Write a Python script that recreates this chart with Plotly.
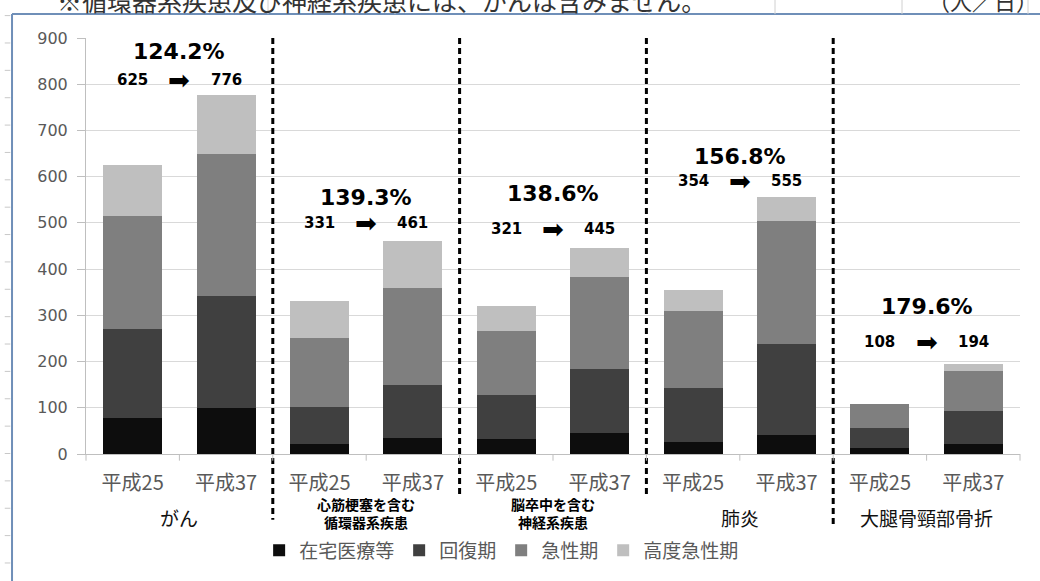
import plotly.graph_objects as go

# 病床機能別の推計（人／日）: 平成25年 → 平成37年
diseases = ["がん", "心筋梗塞を含む<br>循環器系疾患", "脳卒中を含む<br>神経系疾患", "肺炎", "大腿骨頸部骨折"]
years = ["平成25", "平成37"]

series_names = ["在宅医療等", "回復期", "急性期", "高度急性期"]
series_colors = ["#0d0d0d", "#404040", "#7f7f7f", "#bfbfbf"]

# bar order: がん H25, がん H37, 循環器 H25, 循環器 H37, ...
zaitaku = [78, 100, 21, 34, 32, 45, 25, 41, 12, 21]
kaifuku = [193, 242, 80, 115, 95, 138, 117, 198, 44, 72]
kyusei = [244, 306, 151, 211, 140, 200, 168, 265, 52, 86]
kodo = [110, 128, 79, 101, 54, 62, 44, 51, 0, 15]

y_ticks = [0, 100, 200, 300, 400, 500, 600, 700, 800, 900]

values = [zaitaku, kaifuku, kyusei, kodo]
n_bars = len(zaitaku)
xs = list(range(n_bars))
totals = [sum(v[i] for v in values) for i in xs]

fig = go.Figure()
for name, color, vals in zip(series_names, series_colors, values):
    fig.add_trace(go.Bar(
        x=xs, y=vals, name=name, marker=dict(color=color, line=dict(width=0)),
        width=0.63,
    ))

GRAY = "#595959"
CJK = "Noto Sans CJK JP"
LAT = "DejaVu Sans"

annotations = []
shapes = []

# per-group label heights (percent line, totals line) in axis units
label_rows = [(870, 810), (556, 500), (564, 487), (644, 590), (319, 243)]

for g, disease in enumerate(diseases):
    i0, i1 = 2 * g, 2 * g + 1
    t0, t1 = totals[i0], totals[i1]
    pct = t1 / t0 * 100
    y_pct, y_tot = label_rows[g]
    annotations.append(dict(x=(i0 + i1) / 2, y=y_pct, xref="x", yref="y",
                            text=f"<b>{pct:.1f}%</b>", showarrow=False,
                            font=dict(family=LAT, size=22, color="#000")))
    annotations.append(dict(x=i0, y=y_tot, xref="x", yref="y",
                            text=f"<b>{t0}</b>", showarrow=False,
                            font=dict(family=LAT, size=15, color="#000")))
    annotations.append(dict(x=i1, y=y_tot, xref="x", yref="y",
                            text=f"<b>{t1}</b>", showarrow=False,
                            font=dict(family=LAT, size=15, color="#000")))
    annotations.append(dict(x=(i0 + i1) / 2, y=y_tot, xref="x", yref="y",
                            text="➡", showarrow=False,
                            font=dict(family=LAT, size=26, color="#000")))
    # disease name under the year labels
    xc = (2 * g + 1) / 10
    if "<br>" in disease:
        annotations.append(dict(x=xc, y=-0.142, xref="paper", yref="paper",
                                xanchor="center", yanchor="middle",
                                text="<b>" + disease + "</b>", showarrow=False,
                                font=dict(family=CJK, size=14, color="#000"), align="center"))
    else:
        annotations.append(dict(x=xc, y=-0.153, xref="paper", yref="paper",
                                xanchor="center", yanchor="middle",
                                text=disease, showarrow=False,
                                font=dict(family=CJK, size=19, color="#111")))

# dashed separators between disease groups
sep_bottoms = [-0.158, -0.105, -0.100, -0.177]
for k, yb in enumerate(sep_bottoms):
    xp = (2 * k + 2) / 10
    shapes.append(dict(type="line", xref="paper", yref="paper", x0=xp, x1=xp, y0=1.0, y1=yb,
                       line=dict(color="#000", width=3, dash="6px,4px")))

# short tick marks on category boundaries
for b in range(n_bars + 1):
    xp = b / 10
    shapes.append(dict(type="line", xref="paper", yref="paper", x0=xp, x1=xp, y0=0, y1=-0.016,
                       line=dict(color="#bfbfbf", width=1)))

# sheet frame
FRAME = "#6f8fb8"
shapes.append(dict(type="line", xref="paper", yref="paper", x0=-0.0792, x1=1.03, y0=1.0574, y1=1.0574,
                   line=dict(color=FRAME, width=2)))
shapes.append(dict(type="line", xref="paper", yref="paper", x0=-0.0792, x1=-0.0792, y0=1.0574, y1=-0.31,
                   line=dict(color=FRAME, width=2)))
for px in [142, 268, 395, 522, 649, 775, 902, 1028]:
    xp = (px - 86) / 934
    shapes.append(dict(type="line", xref="paper", yref="paper", x0=xp, x1=xp, y0=1.0574, y1=1.095,
                       line=dict(color="#d0d0d0", width=1)))
for k in range(22):
    py = 208 + 27.5 * (k - 7)
    yp = (456 - py) / 418
    shapes.append(dict(type="line", xref="paper", yref="paper", x0=-0.087, x1=-0.081, y0=yp, y1=yp,
                       line=dict(color="#c8c8c8", width=1)))

# header line (cut by the top edge)
annotations.append(dict(x=(55 - 86) / 934, y=1.0925, xref="paper", yref="paper",
                        xanchor="left", yanchor="middle",
                        text="※循環器系疾患及び神経系疾患には、がんは含みません。", showarrow=False,
                        font=dict(family=CJK, size=25, color="#333")))
annotations.append(dict(x=(926 - 86) / 934, y=1.0925, xref="paper", yref="paper",
                        xanchor="left", yanchor="middle",
                        text="（人／日）", showarrow=False,
                        font=dict(family=CJK, size=22, color="#333")))

fig.update_layout(
    width=1040, height=581,
    margin=dict(l=86, r=20, t=38, b=125),
    paper_bgcolor="white", plot_bgcolor="white",
    barmode="stack",
    bargap=0.37,
    showlegend=True,
    legend=dict(orientation="h", x=0.445, xanchor="center", y=-0.232, yanchor="middle",
                traceorder="normal", font=dict(family=CJK, size=19, color=GRAY),
                itemwidth=30, bgcolor="rgba(0,0,0,0)"),
    xaxis=dict(range=[-0.5, n_bars - 0.5], tickmode="array", tickvals=xs,
               ticktext=[years[i % 2] for i in xs],
               tickfont=dict(family=CJK, size=20, color=GRAY),
               ticks="outside", ticklen=11, tickcolor="rgba(0,0,0,0)",
               showline=True, linecolor="#bfbfbf", linewidth=1,
               showgrid=False, zeroline=False, fixedrange=True),
    yaxis=dict(range=[0, 900], tickmode="array", tickvals=y_ticks,
               tickfont=dict(family=LAT, size=16, color=GRAY),
               ticks="outside", ticklen=8, tickcolor="#bfbfbf", ticklabelstandoff=6,
               showline=True, linecolor="#bfbfbf", linewidth=1,
               showgrid=True, gridcolor="#d9d9d9", gridwidth=1, zeroline=False),
    annotations=annotations,
    shapes=shapes,
)

fig.write_html("out.html")
